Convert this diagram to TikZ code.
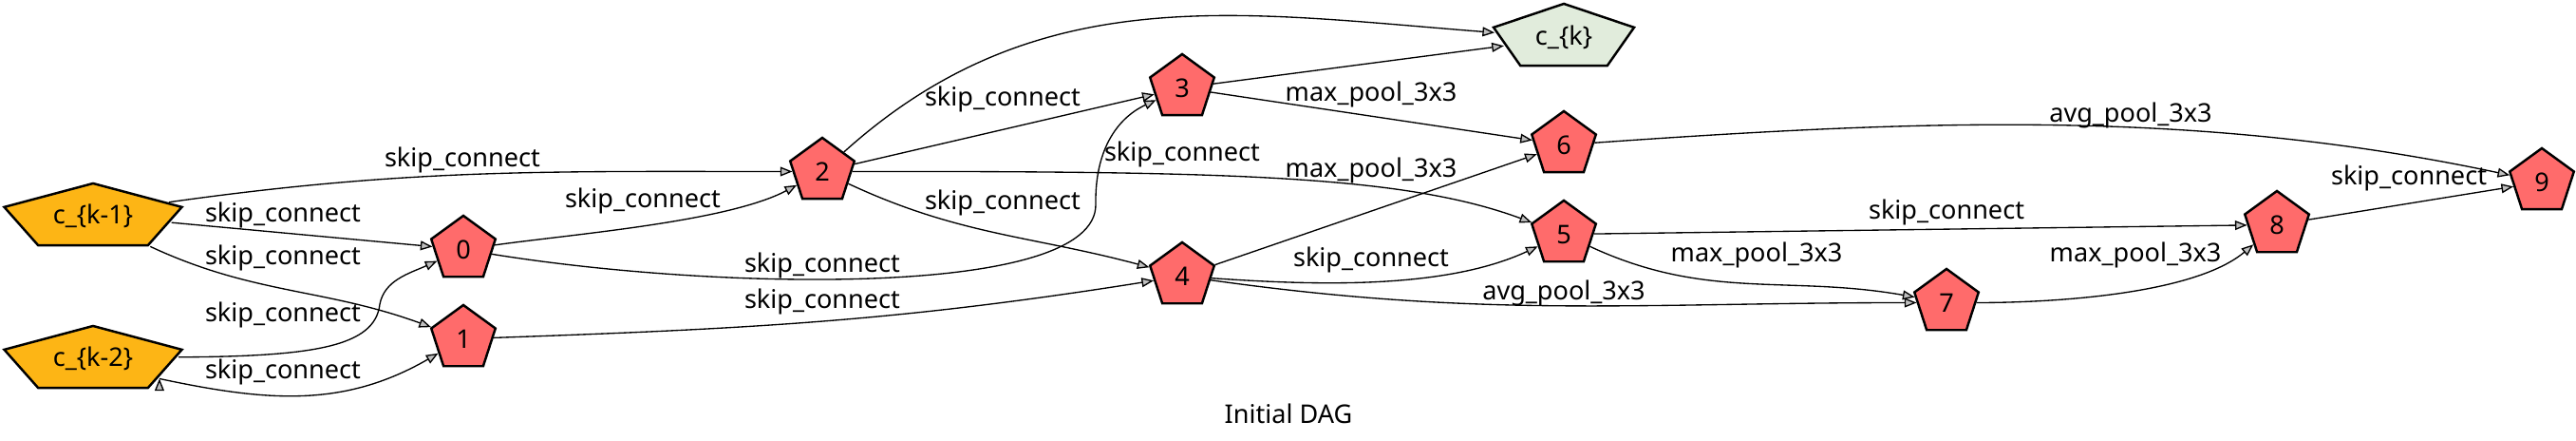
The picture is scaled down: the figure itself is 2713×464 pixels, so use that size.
\documentclass[tikz,border=0pt]{standalone}
\usepackage{fontspec}
\setmainfont{Noto Sans}
\usepackage{tikz}
\usetikzlibrary{%
  shapes.geometric,%
  calc,%
  arrows.meta%
}
\definecolor{inorange}{RGB}{253,181,21}
\definecolor{opred}{RGB}{255,107,107}
\definecolor{outgreen}{RGB}{225,236,220}
\definecolor{tipgray}{RGB}{191,191,191}

\tikzset{
  opnode/.style={regular polygon, regular polygon sides=5, draw, line width=0.7pt,
    fill=opred, minimum size=0.71cm, inner sep=0pt},
  innode/.style={regular polygon, regular polygon sides=5, draw, line width=0.7pt,
    fill=inorange, minimum size=0.72cm, inner sep=0pt, xscale=2.73, transform shape},
  outnode/.style={regular polygon, regular polygon sides=5, draw, line width=0.7pt,
    fill=outgreen, minimum size=0.72cm, inner sep=0pt, xscale=2.16, transform shape},
  conn/.style={line width=0.38pt, -{Triangle[length=3.6pt, width=2.8pt, fill=tipgray]}},
  lbl/.style={inner sep=0pt}
}

\begin{document}
\begin{tikzpicture}[x=0.01cm, y=0.01cm, font=\fontsize{7.7}{9}\selectfont]
\useasboundingbox (0,0) rectangle (2713,464);

% cells
\node[innode] (km1) at (98,235) {};
\node (km1t) at (98,237) {c\_\{k-1\}};
\node[innode] (km2) at (98,85) {};
\node (km2t) at (98,87) {c\_\{k-2\}};
\node[outnode] (ck) at (1647,424) {};
\node (ckt) at (1647,425) {c\_\{k\}};

% intermediate nodes
\node[opnode] (n0) at (488,201.5) {0};
\node[opnode] (n1) at (488,107.5) {1};
\node[opnode] (n2) at (866,283.5) {2};
\node[opnode] (n3) at (1245,371.5) {3};
\node[opnode] (n4) at (1245,173.5) {4};
\node[opnode] (n5) at (1647,217.5) {5};
\node[opnode] (n6) at (1647,311.5) {6};
\node[opnode] (n7) at (2050,145.5) {7};
\node[opnode] (n8) at (2398,227.5) {8};
\node[opnode] (n9) at (2677,272.5) {9};

\draw[conn]
	($(km1.corner 1)!0.82!(km1.corner 5)$) edge[out=8, in=180] (n2)
	($(km1.corner 5)!0.4!(km1.corner 4)$) edge (n0)
	(km1.corner 4) edge[out=-25, in=160] (n1)
	($(km2.corner 5)!0.74!(km2.corner 4)$) edge[out=-12, in=210] (n1)
	(n0) edge[out=8, in=208, looseness=0.65] (n2)
	(n2) edge (n3)
	(n2) edge[out=42, in=175] (ck)
	(n3) edge (ck)
	(n2) edge[out=-25, in=165] (n4)
	(n1) edge[out=2, in=189] (n4)
	(n3) edge (n6)
	(n4) edge (n6)
	(n4) edge[out=-4, in=205, looseness=0.8] (n5)
	(n4) edge[out=-8, in=180] (n7)
	(n5) edge (n8)
	(n5) edge[out=-25, in=170] (n7)
	(n7) edge[out=0, in=220, looseness=0.7] (n8)
	(n8) edge (n9)
	(n6) edge[out=4, in=168, looseness=0.9] (n9)
;
\draw[conn] ($(km2.corner 5)!0.2!(km2.corner 4)$) .. controls (330,89) and (395,99) .. (400,144)
	.. controls (405,169) and (430,176) .. (n0);
\draw[conn] (n0) .. controls (750,159) and (1155,149) .. (1154,249)
	.. controls (1153,304) and (1175,339) .. (n3);
\draw[conn] (n2) .. controls (1300,284) and (1480,279) .. (n5);

% operation labels
\node[lbl] (lk1n2) at (487,296) {skip\_connect};
\node[lbl] (lk1n0) at (298,238) {skip\_connect};
\node[lbl] (lk1n1) at (298,193) {skip\_connect};
\node[lbl] (lk2n0) at (298,133) {skip\_connect};
\node[lbl] (lk2n1) at (298,73) {skip\_connect};
\node[lbl] (l0n2) at (677,253) {skip\_connect};
\node[lbl] (l2n3) at (1056,360) {skip\_connect};
\node[lbl] (l2n4) at (1056,251) {skip\_connect};
\node[lbl] (l0n3) at (866,185) {skip\_connect};
\node[lbl] (l1n4) at (866,147) {skip\_connect};
\node[lbl] (l2n5) at (1245,302) {skip\_connect};
\node[lbl] (l3n6) at (1444,365) {max\_pool\_3x3};
\node[lbl] (l4n6) at (1444,285) {max\_pool\_3x3};
\node[lbl] (l4n5) at (1444,191) {skip\_connect};
\node[lbl] (l4n7) at (1647,156) {avg\_pool\_3x3};
\node[lbl] (l5n7) at (1850,196) {max\_pool\_3x3};
\node[lbl] (l5n8) at (2050,241) {skip\_connect};
\node[lbl] (l7n8) at (2249,196) {max\_pool\_3x3};
\node[lbl] (l8n9) at (2537,277) {skip\_connect};
\node[lbl] (l6n9) at (2244,343) {avg\_pool\_3x3};

\node (title) at (1357,29) {Initial DAG};
\end{tikzpicture}
\end{document}
